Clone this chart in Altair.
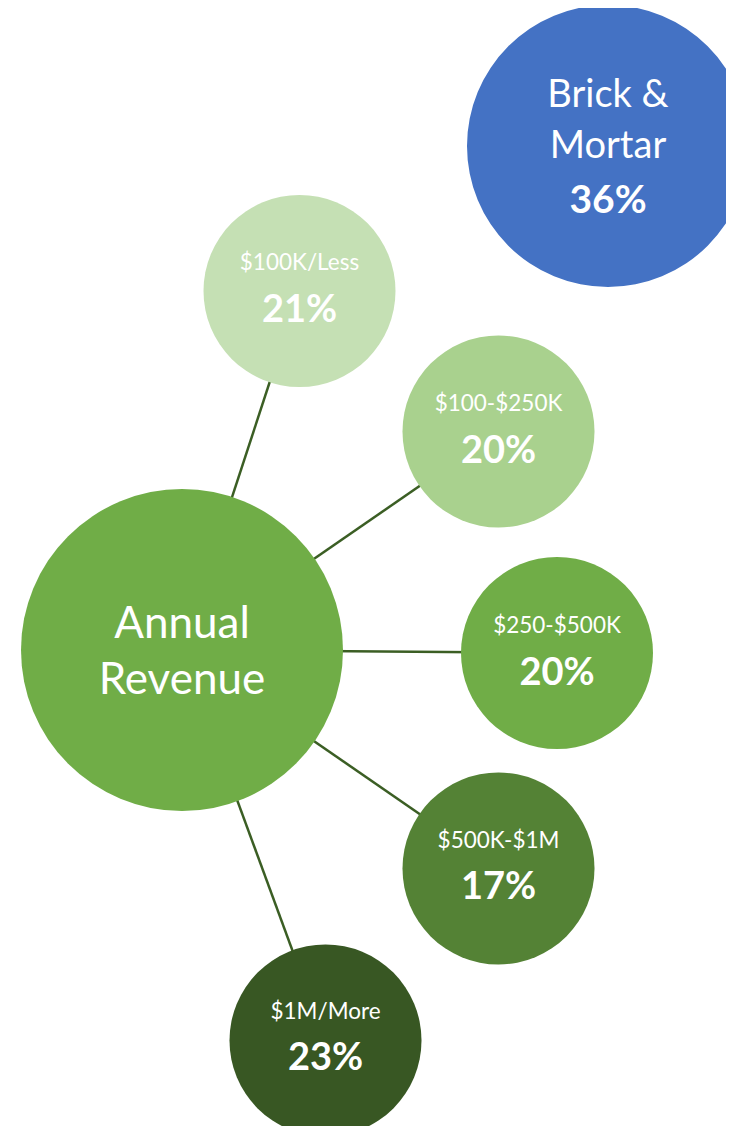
import altair as alt
import pandas as pd

# ---- data ----
nodes = ["Brick & Mortar", "Annual Revenue", "$100K/Less", "$100-$250K",
         "$250-$500K", "$500K-$1M", "$1M/More"]
pct = [36, None, 21, 20, 20, 17, 23]
label_lines = [["Brick &", "Mortar"], ["Annual", "Revenue"], ["$100K/Less"],
               ["$100-$250K"], ["$250-$500K"], ["$500K-$1M"], ["$1M/More"]]
hub = "Annual Revenue"
spokes = ["$100K/Less", "$100-$250K", "$250-$500K", "$500K-$1M", "$1M/More"]

# ---- layout (diagram placement, image pixels) ----
cx = [608, 182, 299.5, 498.5, 557, 498.5, 325.5]
cy = [146, 650, 291, 431.5, 653, 868.5, 1040.5]
rad = [141, 161, 96, 96, 96, 96, 96]
colors = ["#4472C4", "#70AD47", "#C5E0B4", "#A9D18E", "#70AD47", "#548235", "#385723"]
# baselines of text lines (label lines, then percentage)
label_base = [[107, 158], [638, 694], [270], [411], [633], [848], [1019]]
pct_base = [213, None, 322, 463, 685, 899, 1070]
label_size = [38, 44, 22.5, 22.5, 22.5, 22.5, 22.5]

node_df = pd.DataFrame({
    "name": nodes, "x": cx, "y": cy,
    "size": [(2 * r) ** 2 for r in rad], "color": colors,
})

edge_rows = []
for s in spokes:
    i, j = nodes.index(hub), nodes.index(s)
    edge_rows.append({"x": cx[i], "y": cy[i], "x2": cx[j], "y2": cy[j]})
edge_df = pd.DataFrame(edge_rows)

lab_rows, pct_rows = [], []
for k, n in enumerate(nodes):
    for line, b in zip(label_lines[k], label_base[k]):
        lab_rows.append({"t": line, "x": cx[k], "y": b, "fs": label_size[k]})
    if pct[k] is not None:
        pct_rows.append({"t": f"{pct[k]}%", "x": cx[k], "y": pct_base[k],
                         "fs": 39 if n == "Brick & Mortar" else 38})
lab_df = pd.DataFrame(lab_rows)
pct_df = pd.DataFrame(pct_rows)

W, H = 718, 1118
xs = alt.Scale(domain=[8, 8 + W], nice=False, zero=False)
ys = alt.Scale(domain=[8, 8 + H], nice=False, zero=False, reverse=True)
X = lambda f="x": alt.X(f"{f}:Q", scale=xs, axis=None)
Y = lambda f="y": alt.Y(f"{f}:Q", scale=ys, axis=None)

edges = alt.Chart(edge_df).mark_rule(color="#3B5E24", strokeWidth=2.5).encode(
    x=X(), y=Y(), x2="x2:Q", y2="y2:Q")

circles = alt.Chart(node_df).mark_circle(opacity=1, strokeWidth=0).encode(
    x=X(), y=Y(),
    size=alt.Size("size:Q", scale=None, legend=None),
    color=alt.Color("color:N", scale=None, legend=None))

labels = alt.Chart(lab_df).mark_text(
    font="Lato", color="white", align="center", baseline="alphabetic").encode(
    x=X(), y=Y(), text="t:N", size=alt.Size("fs:Q", scale=None, legend=None))

pcts = alt.Chart(pct_df).mark_text(
    font="Lato", fontWeight="bold", color="white", align="center",
    baseline="alphabetic").encode(
    x=X(), y=Y(), text="t:N", size=alt.Size("fs:Q", scale=None, legend=None))

chart = alt.layer(edges, circles, labels, pcts).properties(
    width=W, height=H, padding=0, autosize=alt.AutoSizeParams(type="none"),
    background="white"
).configure_view(stroke=None)

chart.save("out.html", embed_options={"renderer": "svg", "actions": False})
